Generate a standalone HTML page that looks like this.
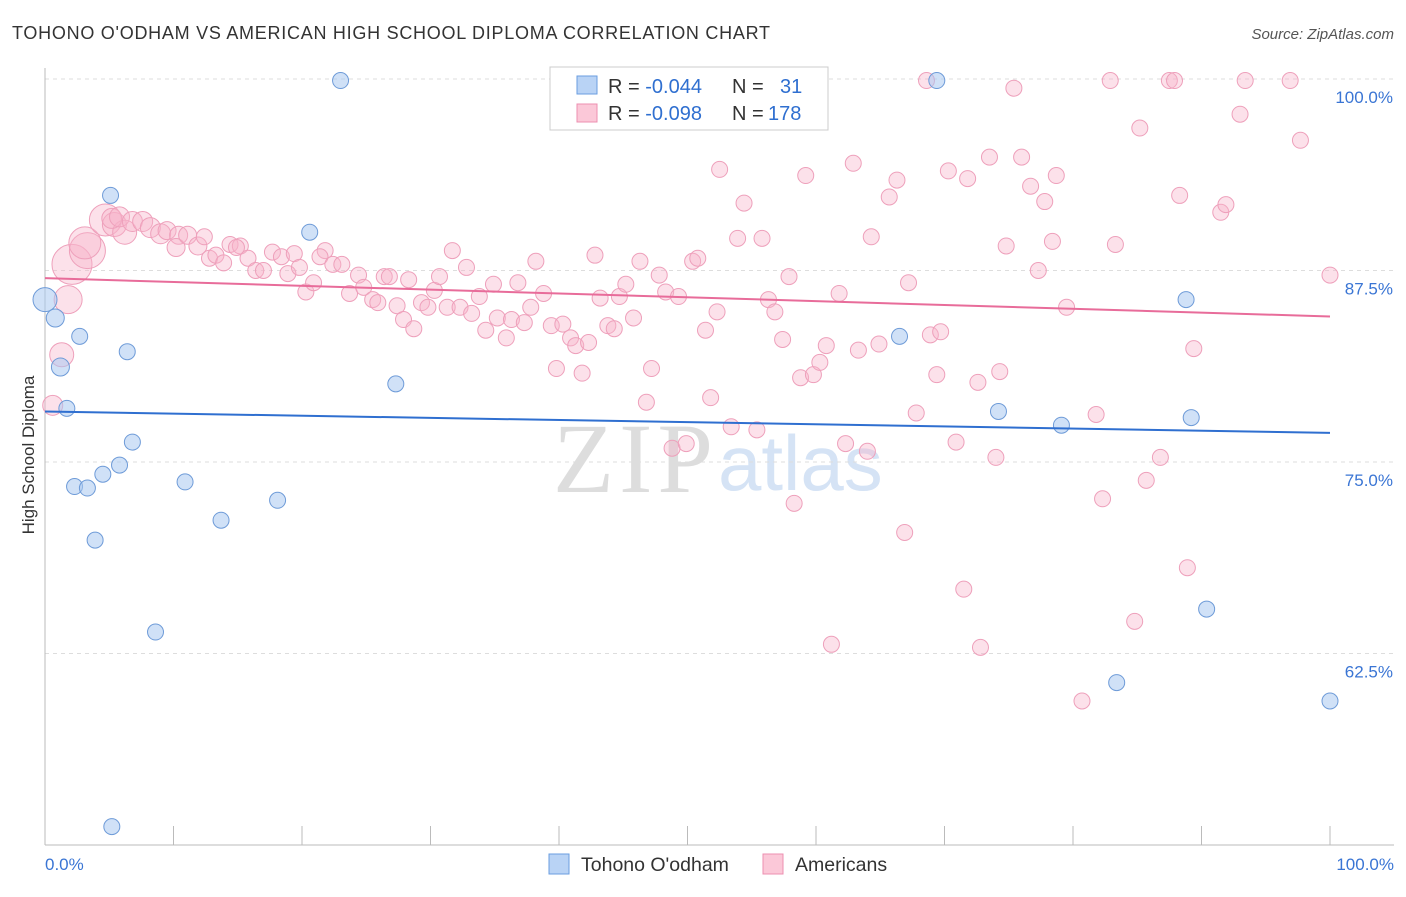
<!DOCTYPE html>
<html><head><meta charset="utf-8"><style>
body{margin:0;background:#fff;font-family:"Liberation Sans",sans-serif}
</style></head><body>
<svg id="c" width="1406" height="892" xmlns="http://www.w3.org/2000/svg" font-family="Liberation Sans, sans-serif">
<text x="12" y="39" font-size="18" fill="#333" textLength="758" lengthAdjust="spacing">TOHONO O'ODHAM VS AMERICAN HIGH SCHOOL DIPLOMA CORRELATION CHART</text>
<text x="1394" y="39" font-size="15" fill="#555" text-anchor="end" font-style="italic">Source: ZipAtlas.com</text>
<g>
<text x="553" y="492" fill="#ddd" font-size="100" font-family="Liberation Serif, serif" textLength="160">ZIP</text>
<text x="718" y="490" fill="#d5e3f5" font-size="78">atlas</text>
</g>
<g id="grid"></g><g id="axes"></g><g id="pink"></g><g id="blue"></g><g id="lines"></g>
<text transform="translate(34,455) rotate(-90)" font-size="17" fill="#333" text-anchor="middle">High School Diploma</text>
<g>
<rect x="550" y="67" width="278" height="63" fill="#fff" stroke="#ccc"/>
<rect x="577" y="76" width="20" height="18" fill="#b9d3f5" stroke="#6a9ee0"/>
<rect x="577" y="104" width="20" height="18" fill="#fbc8d8" stroke="#ec8fb0"/>
<text x="608" y="93" font-size="20" fill="#333">R = <tspan fill="#2f6fd0">-0.044</tspan><tspan x="732">N = </tspan><tspan x="780" fill="#2f6fd0">31</tspan></text>
<text x="608" y="120" font-size="20" fill="#333">R = <tspan fill="#2f6fd0">-0.098</tspan><tspan x="732">N = </tspan><tspan x="768" fill="#2f6fd0">178</tspan></text>
</g>
<g>
<rect x="549" y="854" width="20" height="20" fill="#b9d3f5" stroke="#6a9ee0"/>
<text x="581" y="871" font-size="19.5" fill="#333">Tohono O'odham</text>
<rect x="763" y="854" width="20" height="20" fill="#fbc8d8" stroke="#ec8fb0"/>
<text x="795" y="871" font-size="19.5" fill="#333">Americans</text>
</g>
</svg>
<script>
const yTicks=[100,87.5,75,62.5];
const yTickLabels=["100.0%","87.5%","75.0%","62.5%"];
const xTickLabels=["0.0%","100.0%"];
const blueX=[0,0.8,1.2,1.7,2.3,2.7,3.3,3.9,4.5,5.1,5.8,6.4,6.8,8.6,10.9,13.7,18.1,20.6,23.0,27.3,47.6,66.5,69.4,74.2,79.1,83.4,88.8,89.2,90.4,100,5.2];
const blueY=[85.6,84.4,81.2,78.5,73.4,83.2,73.3,69.9,74.2,92.4,74.8,82.2,76.3,63.9,73.7,71.2,72.5,90.0,99.9,80.1,99.9,83.2,99.9,78.3,77.4,60.6,85.6,77.9,65.4,59.4,51.2];
const pinkX=[2.1,3.3,3.1,1.8,1.3,0.6,4.7,5.4,6.2,5.2,5.8,6.8,7.6,8.2,9.0,9.5,10.4,10.2,11.1,11.9,12.4,12.8,13.3,13.9,14.4,15.2,14.9,15.8,16.4,17.0,17.7,18.4,18.9,19.4,19.8,20.3,20.9,21.8,21.4,22.4,23.1,23.7,24.4,24.8,25.5,25.9,26.4,26.8,27.4,27.9,28.3,28.7,29.3,29.8,30.3,30.7,31.3,31.7,32.3,32.8,33.2,33.8,34.3,34.9,35.2,35.9,36.3,36.8,37.3,37.8,38.2,38.8,39.4,39.8,40.3,40.9,41.3,41.8,42.3,42.8,43.2,43.8,44.3,44.7,45.2,45.8,46.3,46.8,47.2,47.8,48.3,48.8,49.3,49.9,50.4,50.8,51.4,51.8,52.3,52.5,53.4,53.9,54.4,55.4,55.8,56.3,56.8,57.4,57.9,58.3,58.8,59.2,59.8,60.3,60.8,61.2,61.8,62.3,62.9,63.3,64.0,64.3,64.9,65.7,66.3,66.9,67.2,67.8,68.6,68.9,69.4,69.7,70.3,70.9,71.5,71.8,72.6,72.8,73.5,74.0,74.3,74.8,75.4,76.0,76.7,77.3,77.8,78.4,78.7,79.5,80.7,81.8,82.3,82.9,83.3,84.8,85.2,85.7,86.8,87.5,87.9,88.3,88.9,89.4,91.5,91.9,93.0,93.4,96.9,97.7,100];
const pinkY=[87.9,88.8,89.3,85.6,82.0,78.7,90.8,90.5,90.0,90.9,91.0,90.7,90.7,90.3,89.9,90.1,89.8,89.0,89.8,89.1,89.7,88.3,88.5,88.0,89.2,89.1,89.0,88.3,87.5,87.5,88.7,88.4,87.3,88.6,87.7,86.1,86.7,88.8,88.4,87.9,87.9,86.0,87.2,86.4,85.6,85.4,87.1,87.1,85.2,84.3,86.9,83.7,85.4,85.1,86.2,87.1,85.1,88.8,85.1,87.7,84.7,85.8,83.6,86.6,84.4,83.1,84.3,86.7,84.1,85.1,88.1,86.0,83.9,81.1,84.0,83.1,82.6,80.8,82.8,88.5,85.7,83.9,83.7,85.8,86.6,84.4,88.1,78.9,81.1,87.2,86.1,75.9,85.8,76.2,88.1,88.3,83.6,79.2,84.8,94.1,77.3,89.6,91.9,77.1,89.6,85.6,84.8,83.0,87.1,72.3,80.5,93.7,80.7,81.5,82.6,63.1,86.0,76.2,94.5,82.3,75.7,89.7,82.7,92.3,93.4,70.4,86.7,78.2,99.9,83.3,80.7,83.5,94.0,76.3,66.7,93.5,80.2,62.9,94.9,75.3,80.9,89.1,99.4,94.9,93.0,87.5,92.0,89.4,93.7,85.1,59.4,78.1,72.6,99.9,89.2,64.6,96.8,73.8,75.3,99.9,99.9,92.4,68.1,82.4,91.3,91.8,97.7,99.9,99.9,96.0,87.2];
const pinkR=[20,18,16,14,12,10,16,12,12,10,10,10,10,10,10,9,9,9,9,9];
const blueR=[12,9,9];
const blueTrend=[78.3,76.9];
const pinkTrend=[87.0,84.5];
const X=v=>45+v*12.85, Y=v=>79+(100-v)*15.32;
const NS="http://www.w3.org/2000/svg";
function mk(t,a,p){const e=document.createElementNS(NS,t);for(const k in a)e.setAttribute(k,a[k]);p.appendChild(e);return e;}
const grid=document.getElementById('grid'),axes=document.getElementById('axes');
yTicks.forEach((t,i)=>{
 const l=mk('line',{x1:45,x2:1394,y1:Y(t),y2:Y(t),stroke:'#ddd','stroke-dasharray':'4,4'},grid);
 
 
 const tx=mk('text',{x:1393,y:Y(t)+24,'font-size':17,fill:'#3a75d4','text-anchor':'end'},axes);
 tx.textContent=yTickLabels[i];
 
 
});
const ax=mk('line',{x1:45,x2:1394,y1:845,y2:845,stroke:'#bbb'},axes);


const ay=mk('line',{x1:45,x2:45,y1:68,y2:845,stroke:'#bbb'},axes);


for(let i=0;i<=10;i++){const t=mk('line',{x1:X(i*10),x2:X(i*10),y1:826,y2:845,stroke:'#bbb'},axes);
 
 }
[[0,'start',45],[100,'end',1394]].forEach((d,i)=>{const t=mk('text',{x:d[2],y:870,'font-size':17,fill:'#3a75d4','text-anchor':d[1]},axes);t.textContent=xTickLabels[i];
 
 });
const pg=document.getElementById('pink'),bg=document.getElementById('blue');
pinkX.forEach((x,i)=>{const c=mk('circle',{cx:X(x),cy:Y(pinkY[i]),r:pinkR[i]||8,fill:'rgba(248,180,202,0.4)',stroke:'#eea0bb','stroke-width':1},pg);
 
 });
blueX.forEach((x,i)=>{const c=mk('circle',{cx:X(x),cy:Y(blueY[i]),r:blueR[i]||8,fill:'rgba(170,200,240,0.55)',stroke:'#6e9bd8','stroke-width':1},bg);
 
 });
const lg=document.getElementById('lines');
const bl=mk('line',{x1:X(0),x2:X(100),y1:Y(blueTrend[0]),y2:Y(blueTrend[1]),stroke:'#2f6fd0','stroke-width':2},lg);


const pl=mk('line',{x1:X(0),x2:X(100),y1:Y(pinkTrend[0]),y2:Y(pinkTrend[1]),stroke:'#e86c9a','stroke-width':2},lg);


</script>
</body></html>
